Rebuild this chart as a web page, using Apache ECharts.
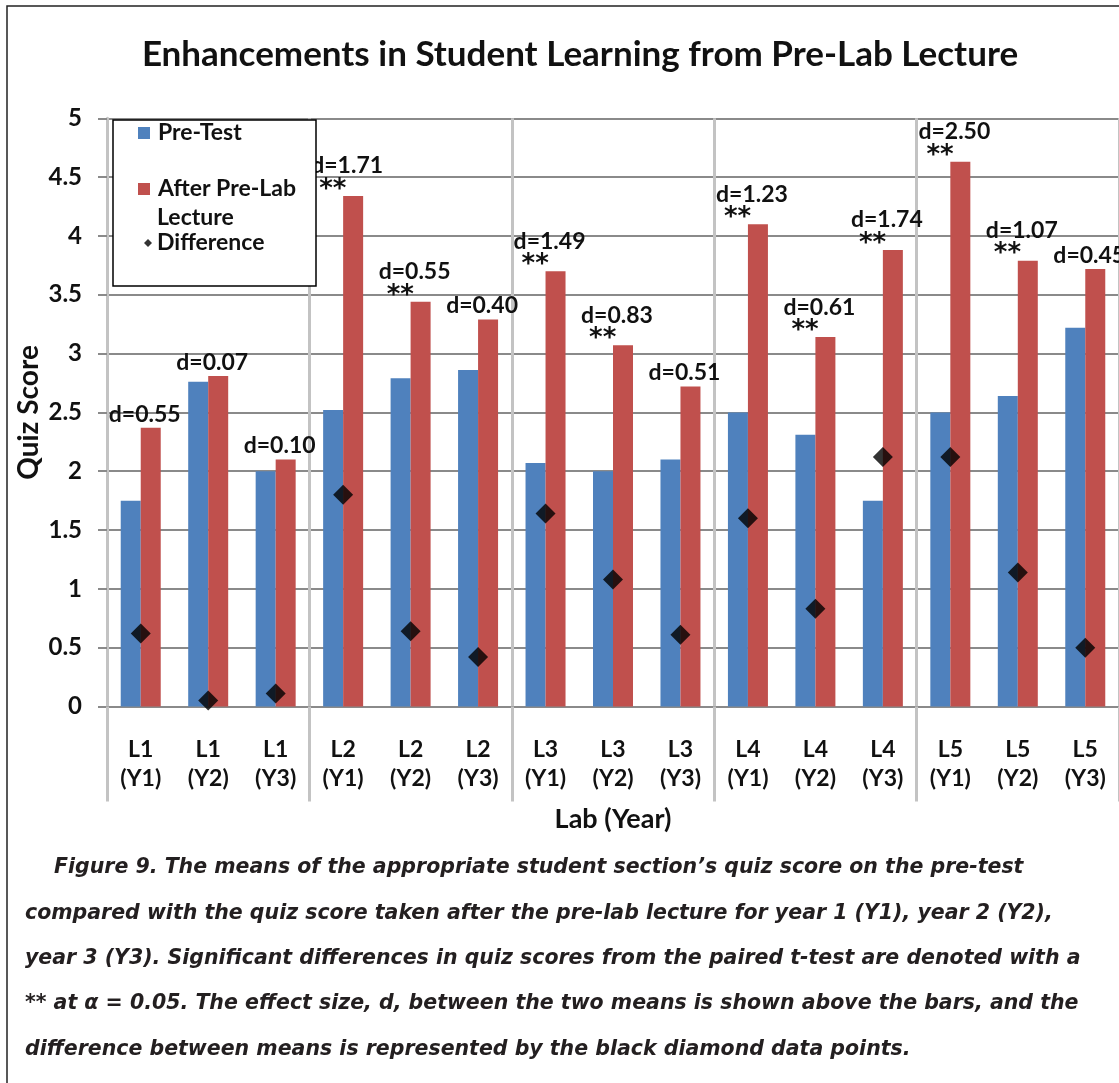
<!DOCTYPE html>
<html><head><meta charset="utf-8">
<script src="https://cdn.jsdelivr.net/npm/echarts@6/dist/echarts.min.js"></script>
<style>html,body{margin:0;padding:0;background:#fff}#c{width:1119px;height:1083px}</style>
</head><body><div id="c"></div>
<script>
const categories = ['L1 (Y1)','L1 (Y2)','L1 (Y3)','L2 (Y1)','L2 (Y2)','L2 (Y3)','L3 (Y1)','L3 (Y2)','L3 (Y3)','L4 (Y1)','L4 (Y2)','L4 (Y3)','L5 (Y1)','L5 (Y2)','L5 (Y3)'];
const preTest      = [1.75,2.76,2.00,2.52,2.79,2.86,2.07,2.00,2.10,2.50,2.31,1.75,2.50,2.64,3.22];
const afterLecture = [2.37,2.81,2.10,4.34,3.44,3.29,3.70,3.07,2.72,4.10,3.14,3.88,4.63,3.79,3.72];
const difference   = [0.62,0.05,0.11,1.80,0.64,0.42,1.64,1.08,0.61,1.60,0.83,2.12,2.12,1.14,0.50];
const effectSize   = ['0.55','0.07','0.10','1.71','0.55','0.40','1.49','0.83','0.51','1.23','0.61','1.74','2.50','1.07','0.45'];
const significant  = [false,false,false,true,true,false,true,true,false,true,true,true,true,true,false];
const titleText = 'Enhancements in Student Learning from Pre-Lab Lecture';
const captionLines = [
  'Figure 9. The means of the appropriate student section\u2019s quiz score on the pre-test',
  'compared with the quiz score taken after the pre-lab lecture for year 1 (Y1), year 2 (Y2),',
  'year 3 (Y3). Significant differences in quiz scores from the paired t-test are denoted with a',
  '** at \u03b1 = 0.05. The effect size, d, between the two means is shown above the bars, and the',
  'difference between means is represented by the black diamond data points.'
];

const FONT = 'Lato, "Open Sans", sans-serif';
const TXT = '#111';
const chart = echarts.init(document.getElementById('c'), null, {renderer:'canvas'});

const redData = afterLecture.map((v, i) => ({
  value: v,
  label: significant[i]
    ? {formatter: '{d|d=' + effectSize[i] + '}\n{s|**}'}
    : {formatter: '{e|d=' + effectSize[i] + '}'}
}));

const legendText = {fontFamily: FONT, fontWeight: 'bold', fontSize: 23, color: TXT, lineHeight: 25};

const captionGraphics = captionLines.map((t, i) => ({
  type: 'text', x: i === 0 ? 54 : 25, y: 868 + i * 45.3, z: 20,
  style: {text: t, fill: '#231f20', font: 'italic bold 20.5px "DejaVu Sans", sans-serif', verticalAlign: 'middle'}
}));

chart.setOption({
  animation: false,
  backgroundColor: '#fff',
  title: {
    text: titleText, left: 580, top: 35, textAlign: 'center', padding: 0,
    textStyle: {fontFamily: FONT, fontWeight: 'bold', fontSize: 35, color: TXT, lineHeight: 40}
  },
  legend: [
    {left: 133, top: 115.5, orient: 'vertical', itemWidth: 12, itemHeight: 12, z: 10, selectedMode: false,
     data: [{name: 'Pre-Test', icon: 'rect'}], textStyle: Object.assign({padding: [0,0,0,3]}, legendText)},
    {left: 133, top: 171.5, orient: 'vertical', itemWidth: 12, itemHeight: 12, z: 10, selectedMode: false,
     data: [{name: 'After Pre-Lab', icon: 'rect'}], textStyle: Object.assign({padding: [0,0,0,3]}, legendText)},
    {left: 139, top: 200.5, orient: 'vertical', itemWidth: 8, itemHeight: 33, z: 10, selectedMode: false,
     data: [{name: 'Lecture Difference', icon: 'path://M4,0 L4.01,0 M4,25 L8,29 L4,33 L0,29 Z'}],
     formatter: () => 'Lecture\nDifference', textStyle: legendText}
  ],
  graphic: [
    {type: 'rect', shape: {x: 7, y: 6, width: 1130, height: 1100}, z: 1,
     style: {fill: 'none', stroke: '#222', lineWidth: 1.5}},
    {type: 'rect', shape: {x: 113, y: 120, width: 203, height: 166}, z: 3,
     style: {fill: '#fff', stroke: '#000', lineWidth: 1.5}}
  ].concat(captionGraphics),
  grid: {left: 107, right: -1, top: 118.3, bottom: 376.5, containLabel: false},
  xAxis: {
    type: 'category', data: categories,
    name: 'Lab (Year)', nameLocation: 'middle', nameGap: 99, nameMoveOverlap: false,
    nameTextStyle: {fontFamily: FONT, fontWeight: 'bold', fontSize: 27, color: TXT},
    axisLine: {show: true, lineStyle: {color: '#8a8a8a', width: 2}},
    axisTick: {show: true, interval: (i) => i % 3 === 0, length: 95, lineStyle: {color: '#c3c3c3', width: 3}},
    splitLine: {show: true, interval: (i) => i % 3 === 0, lineStyle: {color: '#c3c3c3', width: 3}},
    axisLabel: {interval: 0, margin: 29, fontFamily: FONT, fontWeight: 'bold', fontSize: 23, lineHeight: 29, color: TXT,
      formatter: (v) => v.replace(' ', '\n')}
  },
  yAxis: {
    type: 'value', min: 0, max: 5, interval: 0.5,
    name: 'Quiz Score', nameLocation: 'middle', nameGap: 64, nameRotate: 90, nameMoveOverlap: false,
    nameTextStyle: {fontFamily: FONT, fontWeight: 'bold', fontSize: 28, color: TXT},
    axisLine: {show: true, lineStyle: {color: '#c3c3c3', width: 3}},
    axisTick: {show: true, length: 9, lineStyle: {color: '#8a8a8a', width: 2}},
    splitLine: {show: true, lineStyle: {color: '#8a8a8a', width: 2}},
    axisLabel: {margin: 25, fontFamily: FONT, fontWeight: 'bold', fontSize: 24, color: TXT}
  },
  series: [
    {name: 'Pre-Test', type: 'bar', data: preTest, barWidth: 20, barGap: '0%', z: 2,
     itemStyle: {color: '#4f81bd'}},
    {name: 'After Pre-Lab', type: 'bar', data: redData, barWidth: 20, z: 2,
     itemStyle: {color: '#c0504d'},
     label: {show: true, position: 'top', distance: 0, offset: [-6, 0],
       rich: {
         d: {fontFamily: FONT, fontWeight: 'bold', fontSize: 23, color: TXT, lineHeight: 36},
         e: {fontFamily: FONT, fontWeight: 'bold', fontSize: 23, color: TXT, lineHeight: 27},
         s: {fontFamily: '"DejaVu Sans", sans-serif', fontWeight: 'bold', fontSize: 26, color: TXT, lineHeight: 12, align: 'left', padding: [0,0,0,8]}
       }}},
    {name: 'Lecture Difference', type: 'scatter', data: difference, symbol: 'diamond', symbolSize: [20, 20], z: 5,
     itemStyle: {color: '#000'}}
  ]
});
</script></body></html>
